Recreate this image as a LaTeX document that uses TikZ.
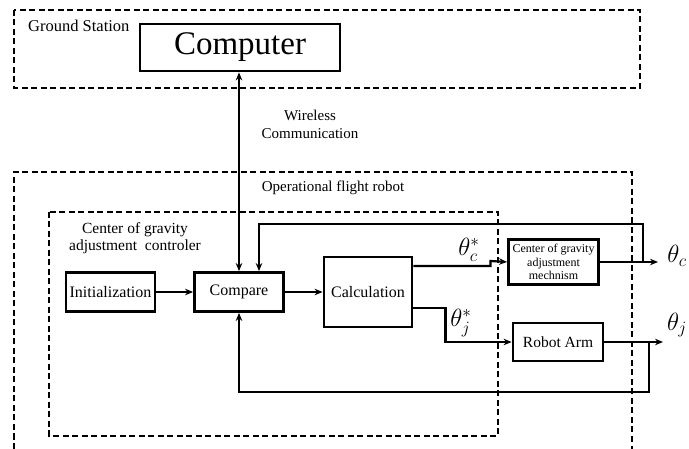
\documentclass[tikz,border=0pt]{standalone}
\usepackage{fontspec}
\setmainfont{Liberation Serif}
\usetikzlibrary{arrows.meta}
\begin{document}
\begin{tikzpicture}[x=1pt,y=-1pt,
 box/.style={draw,line width=2.8pt,inner sep=0pt,align=center,font=\fontsize{16}{18}\selectfont},
 dbox/.style={draw,line width=2.3pt,dash pattern=on 6pt off 3.5pt},
 conn/.style={line width=2.2pt,-{Stealth[length=8pt,width=6.5pt]}},
 lbl/.style={inner sep=0pt,align=center,font=\fontsize{15.5}{17}\selectfont},
 th/.style={inner sep=0pt,font=\fontsize{26}{28}\selectfont}]
\useasboundingbox (0,0) rectangle (689,449);
% dashed regions
\draw[dbox] (14,10) rectangle (640,88);
\draw[dbox] (14,449) -- (14,172) -- (632,172) -- (632,449);
\draw[dbox] (49,212) rectangle (498,436);
% labels
\node[lbl,anchor=west,font=\fontsize{16.5}{18}\selectfont] (gs) at (28,26) {Ground Station};
\node[lbl,font=\fontsize{15}{18}\selectfont] (wc) at (310,124) {Wireless\\Communication};
\node[lbl,font=\fontsize{15}{17}\selectfont] (ofr) at (333,188) {Operational flight robot};
\node[lbl] (cgc) at (135,238) {Center of gravity\\adjustment\ \ controler};
% boxes
\node[box,minimum width=200pt,minimum height=47pt,font=\fontsize{33}{36}\selectfont] (comp) at (240,47.5) {Computer};
\node[box,minimum width=89pt,minimum height=39pt] (init) at (110.5,292) {Initialization};
\node[box,minimum width=89pt,minimum height=39pt] (cmp) at (239,292) {Compare};
\node[box,minimum width=88pt,minimum height=70pt] (calc) at (368,292) {Calculation};
\node[box,minimum width=90pt,minimum height=45pt,font=\fontsize{12}{13.5}\selectfont] (cog) at (553.5,262) {Center of gravity\\adjustment\\mechnism};
\node[box,minimum width=90pt,minimum height=38pt,font=\fontsize{15.5}{17}\selectfont] (arm) at (558,342) {Robot Arm};
% coordinates
\coordinate (cend) at (658,262);
\coordinate (jc) at (643,262);
\coordinate (fbtop) at (643,224);
\coordinate (jend) at (663,342);
\coordinate (jj) at (649,342);
\coordinate (fbbot) at (649,392);
% connectors
\draw[line width=2.2pt,{Stealth[length=8pt,width=6.5pt]}-{Stealth[length=8pt,width=6.5pt]}] (cmp.north) -- (cmp.north |- comp.south);
\draw[conn] (init.east) -- (cmp.west);
\draw[conn] (cmp.east) -- (calc.west);
\draw[conn] ([yshift=26pt]calc.east) -- ++(77,0) -- ++(0,-5) -- (cog.west);
\draw[conn] ([yshift=-16pt]calc.east) -- ++(32,0) |- (arm.west);
\draw[conn] (cog.east) -- (cend);
\draw[conn] (arm.east) -- (jend);
\draw[conn] (jc) -- (fbtop) -| ([xshift=20pt]cmp.north);
\draw[conn] (jj) -- (fbbot) -| (cmp.south);
% theta labels
\node[th] (tcs) at (469,250) {$\theta_c^*$};
\node[th] (tjs) at (461,323) {$\theta_j^*$};
\node[th] (tc) at (677,256) {$\theta_c$};
\node[th] (tj) at (677,325) {$\theta_j$};
\end{tikzpicture}
\end{document}
